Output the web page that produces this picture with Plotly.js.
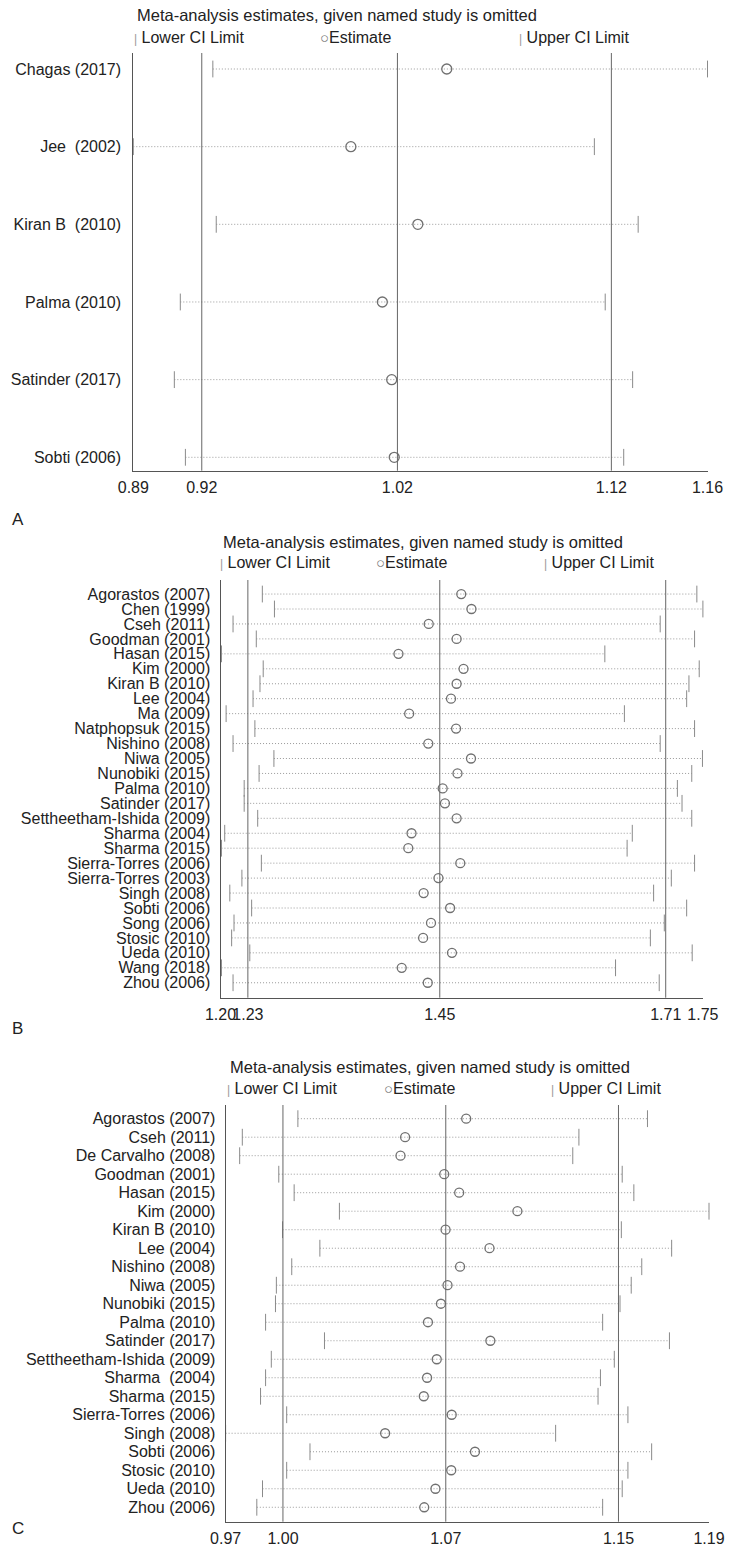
<!DOCTYPE html>
<html>
<head>
<meta charset="utf-8">
<script src="https://cdn.plot.ly/plotly-3.0.1.min.js"></script>
<style>
html,body{margin:0;padding:0;background:#fff;}
#chart{width:729px;height:1549px;}
</style>
</head>
<body>
<div id="chart"></div>
<script>
// ---------- Data ----------
const studiesA = ['Chagas (2017)','Jee\u00a0\u00a0(2002)','Kiran B\u00a0\u00a0(2010)','Palma (2010)','Satinder (2017)','Sobti (2006)'];
const lowerA = [0.9274,0.8900,0.9290,0.9121,0.9093,0.9145];
const estA   = [1.0374,0.9923,1.0238,1.0071,1.0115,1.0127];
const upperA = [1.1600,1.1068,1.1274,1.1119,1.1248,1.1206];
const tickValsA = [0.89,0.9222,1.0142,1.1148,1.16];
const tickTextA = ['0.89','0.92','1.02','1.12','1.16'];
const pooledA = [0.9222,1.0142,1.1148];

const studiesB = ['Agorastos (2007)','Chen (1999)','Cseh (2011)','Goodman (2001)','Hasan (2015)','Kim (2000)','Kiran B (2010)','Lee (2004)','Ma (2009)','Natphopsuk (2015)','Nishino (2008)','Niwa (2005)','Nunobiki (2015)','Palma (2010)','Satinder (2017)','Settheetham-Ishida (2009)','Sharma (2004)','Sharma (2015)','Sierra-Torres (2006)','Sierra-Torres (2003)','Singh (2008)','Sobti (2006)','Song (2006)','Stosic (2010)','Ueda (2010)','Wang (2018)','Zhou (2006)'];
const lowerB = [1.2477,1.2615,1.2143,1.2408,1.2011,1.2487,1.2450,1.2371,1.2064,1.2392,1.2143,1.2609,1.2440,1.2270,1.2270,1.2424,1.2048,1.2011,1.2466,1.2244,1.2106,1.2355,1.2154,1.2127,1.2334,1.2011,1.2143];
const estB   = [1.4745,1.4861,1.4374,1.4692,1.4029,1.4771,1.4692,1.4628,1.4151,1.4686,1.4369,1.4856,1.4702,1.4533,1.4559,1.4692,1.4178,1.4141,1.4734,1.4485,1.4316,1.4618,1.4400,1.4310,1.4639,1.4066,1.4363];
const upperB = [1.7431,1.7500,1.7013,1.7405,1.6382,1.7458,1.7341,1.7315,1.6605,1.7405,1.7013,1.7495,1.7373,1.7209,1.7262,1.7373,1.6695,1.6636,1.7405,1.7140,1.6938,1.7315,1.7060,1.6901,1.7378,1.6504,1.7002];
const tickValsB = [1.20,1.2312,1.45,1.7076,1.75];
const tickTextB = ['1.20','1.23','1.45','1.71','1.75'];
const pooledB = [1.2312,1.45,1.7076];

const studiesC = ['Agorastos (2007)','Cseh (2011)','De Carvalho (2008)','Goodman (2001)','Hasan (2015)','Kim (2000)','Kiran B (2010)','Lee (2004)','Nishino (2008)','Niwa (2005)','Nunobiki (2015)','Palma (2010)','Satinder (2017)','Settheetham-Ishida (2009)','Sharma\u00a0\u00a0(2004)','Sharma (2015)','Sierra-Torres (2006)','Singh (2008)','Sobti (2006)','Stosic (2010)','Ueda (2010)','Zhou (2006)'];
const lowerC = [1.0029,0.9776,0.9764,0.9942,1.0012,1.0218,0.9959,1.0129,1.0001,0.9931,0.9927,0.9882,1.0150,0.9908,0.9882,0.9859,0.9978,0.9700,1.0084,0.9978,0.9868,0.9842];
const estC   = [1.0795,1.0517,1.0496,1.0695,1.0763,1.1028,1.0701,1.0901,1.0767,1.0710,1.0680,1.0621,1.0905,1.0661,1.0617,1.0602,1.0729,1.0426,1.0835,1.0727,1.0655,1.0604];
const upperC = [1.1620,1.1308,1.1280,1.1505,1.1558,1.1900,1.1501,1.1730,1.1594,1.1546,1.1495,1.1416,1.1720,1.1469,1.1406,1.1395,1.1531,1.1202,1.1639,1.1531,1.1505,1.1416];
const tickValsC = [0.97,0.9961,1.0702,1.1488,1.19];
const tickTextC = ['0.97','1.00','1.07','1.15','1.19'];
const pooledC = [0.9961,1.0702,1.1488];

const panelLetters = ['A','B','C'];
const titleText = 'Meta-analysis estimates, given named study is omitted';
const legendLabels = ['Lower CI Limit','Estimate','Upper CI Limit'];

// ---------- Layout helpers ----------
const W = 729, H = 1549;
const FONT = '"Liberation Sans", Arial, Helvetica, sans-serif';
const px = v => v / W;
const py = v => 1 - v / H;

const panels = [
  {names: studiesA, lo: lowerA, est: estA, hi: upperA, tv: tickValsA, tt: tickTextA, pooled: pooledA,
   xd: [133.3, 707.5], yd: [53, 470.7], yr: [5.1725, -0.206], msz: 12, csz: 10, stand: 8,
   titleX: 136, titleY: 15, legY: 37, legX: [133, 319, 518], letterY: 520},
  {names: studiesB, lo: lowerB, est: estB, hi: upperB, tv: tickValsB, tt: tickTextB, pooled: pooledB,
   xd: [220.5, 702.9], yd: [580, 997.7], yr: [27.0, -0.94], msz: 12, csz: 9, stand: 6,
   titleX: 222, titleY: 542, legY: 563, legX: [219, 375, 543], letterY: 1028},
  {names: studiesC, lo: lowerC, est: estC, hi: upperC, tv: tickValsC, tt: tickTextC, pooled: pooledC,
   xd: [225.6, 709], yd: [1105, 1521.7], yr: [21.78, -0.74], msz: 12, csz: 9, stand: 6,
   titleX: 229, titleY: 1067, legY: 1088, legX: [226, 383, 550], letterY: 1528}
];

const data = [];
const layout = {
  width: W, height: H,
  margin: {l: 0, r: 0, t: 0, b: 0},
  paper_bgcolor: '#fff', plot_bgcolor: '#fff',
  showlegend: false,
  font: {family: FONT, size: 16, color: '#222'},
  shapes: [], annotations: []
};

panels.forEach((p, k) => {
  const sx = k === 0 ? '' : String(k + 1);
  const xa = 'x' + sx, ya = 'y' + sx;
  const idx = p.names.map((_, i) => i);
  // dotted CI lines
  const lx = [], ly = [];
  idx.forEach(i => { lx.push(p.lo[i], p.hi[i], null); ly.push(i, i, null); });
  data.push({type: 'scatter', mode: 'lines', x: lx, y: ly, xaxis: xa, yaxis: ya,
    line: {color: '#9a9a9a', width: 1, dash: '1px,2px'}, hoverinfo: 'skip', cliponaxis: false});
  // lower / upper CI ticks
  [p.lo, p.hi].forEach(arr => {
    data.push({type: 'scatter', mode: 'markers', x: arr, y: idx, xaxis: xa, yaxis: ya,
      marker: {symbol: 'line-ns', size: p.msz, line: {color: '#8a8a8a', width: 1}}, cliponaxis: false});
  });
  // estimates
  data.push({type: 'scatter', mode: 'markers', x: p.est, y: idx, xaxis: xa, yaxis: ya,
    marker: {symbol: 'circle-open', size: p.csz, color: '#707070', line: {color: '#707070', width: 1.3}}, cliponaxis: false});

  layout['xaxis' + sx] = {
    domain: [px(p.xd[0]), px(p.xd[1])], anchor: ya,
    range: [p.tv[0], p.tv[p.tv.length - 1]],
    tickvals: p.tv, ticktext: p.tt, ticks: '', tickangle: 0, showgrid: false, zeroline: false,
    showline: true, linecolor: '#555', linewidth: 1,
    tickfont: {family: FONT, size: 16, color: '#222'}, ticklabelstandoff: 2
  };
  layout['yaxis' + sx] = {
    domain: [py(p.yd[1]), py(p.yd[0])], anchor: xa,
    range: p.yr, tickvals: idx, ticktext: p.names, ticks: '',
    showgrid: false, zeroline: false, showline: true, linecolor: '#555', linewidth: 1,
    tickfont: {family: FONT, size: 16, color: '#222'}, ticklabelstandoff: p.stand
  };
  // pooled reference lines
  p.pooled.forEach(v => layout.shapes.push({type: 'line', xref: xa, yref: ya + ' domain',
    x0: v, x1: v, y0: 0, y1: 1, line: {color: '#666', width: 1}}));

  // title + legend text
  layout.annotations.push({xref: 'paper', yref: 'paper', x: px(p.titleX), y: py(p.titleY),
    xanchor: 'left', yanchor: 'middle', align: 'left', showarrow: false, text: titleText,
    borderpad: 0, font: {family: FONT, size: 16.5, color: '#222'}});
  const legTexts = [
    '<span style="color:#999;font-size:12px">|</span> ' + legendLabels[0],
    '<span style="color:#777;font-size:15px">○</span>' + legendLabels[1],
    '<span style="color:#999;font-size:12px">|</span> ' + legendLabels[2]
  ];
  legTexts.forEach((t, j) => layout.annotations.push({xref: 'paper', yref: 'paper',
    x: px(p.legX[j]), y: py(p.legY), xanchor: 'left', yanchor: 'middle', align: 'left', showarrow: false,
    borderpad: 0, text: t, font: {family: FONT, size: 16, color: '#222'}}));
  layout.annotations.push({xref: 'paper', yref: 'paper', x: px(11), y: py(p.letterY),
    xanchor: 'left', yanchor: 'middle', align: 'left', showarrow: false, text: panelLetters[k],
    borderpad: 0, font: {family: FONT, size: 17, color: '#222'}});
});

Plotly.newPlot('chart', data, layout, {displayModeBar: false, staticPlot: true});
</script>
</body>
</html>
